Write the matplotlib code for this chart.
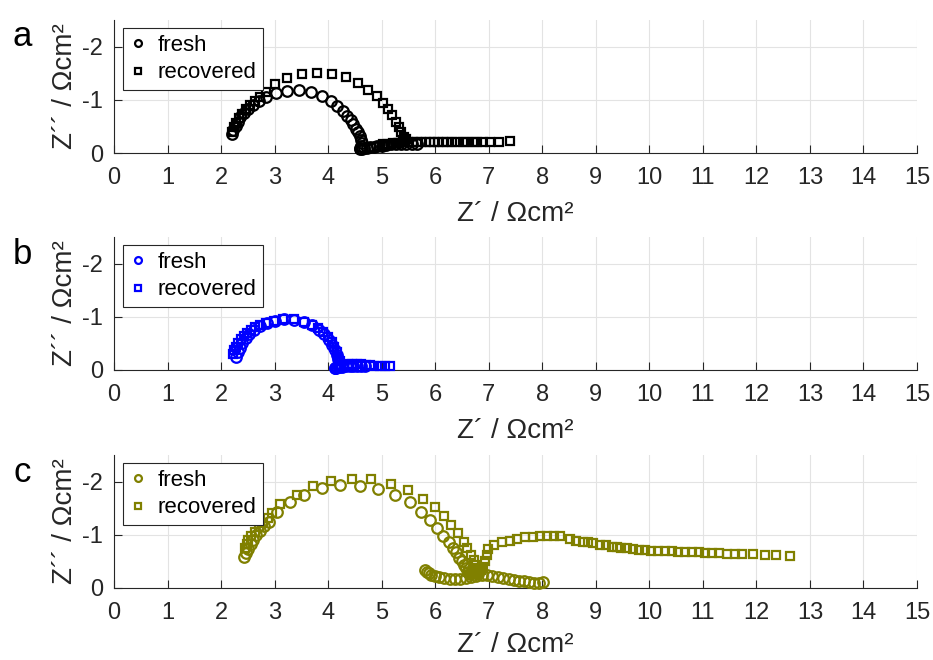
import matplotlib
matplotlib.use("Agg")
import matplotlib.pyplot as plt

plt.rcParams['font.family'] = ['Liberation Sans', 'DejaVu Sans']

# ---------------- data ----------------
panel_labels = ["a", "b", "c"]
series_labels = ["fresh", "recovered"]
colors = ["#000000", "#0000ff", "#808000"]
x_ticks = list(range(0, 16))
y_ticks = [0, -1, -2]
y_tick_labels = ["0", "-1", "-2"]

a_fresh_x = [2.20, 2.23, 2.27, 2.31, 2.36, 2.42, 2.50, 2.59, 2.70, 2.84, 3.03, 3.24, 3.46, 3.68,
             3.88, 4.05, 4.17, 4.27, 4.35, 4.42, 4.47, 4.52, 4.56, 4.60, 4.62, 4.63, 4.62, 4.60,
             4.60, 4.63, 4.67, 4.72, 4.78, 4.85, 4.92, 5.00, 5.08, 5.17, 5.26, 5.36, 5.46, 5.56, 5.66]
a_fresh_y = [-0.35, -0.43, -0.51, -0.59, -0.67, -0.75, -0.83, -0.91, -0.98, -1.05, -1.12, -1.17,
             -1.18, -1.14, -1.07, -0.98, -0.89, -0.79, -0.69, -0.62, -0.54, -0.46, -0.40, -0.32,
             -0.25, -0.18, -0.13, -0.10, -0.08, -0.08, -0.09, -0.10, -0.11, -0.12, -0.13, -0.14,
             -0.15, -0.16, -0.16, -0.17, -0.17, -0.17, -0.16]

a_rec_x = [2.21, 2.24, 2.28, 2.33, 2.39, 2.46, 2.54, 2.63, 2.73, 2.84, 3.01, 3.24, 3.51, 3.79,
           4.07, 4.33, 4.56, 4.75, 4.91, 5.02, 5.11, 5.19, 5.26, 5.32, 5.37, 5.42, 5.45, 5.44,
           5.40, 5.32, 5.22, 5.12, 5.02, 4.95, 5.05, 5.18, 5.30, 5.42, 5.50, 5.58, 5.66, 5.74,
           5.82, 5.90, 5.98, 6.06, 6.14, 6.22, 6.31, 6.41, 6.51, 6.60, 6.70, 6.79, 6.90, 7.02,
           7.20, 7.40]
a_rec_y = [-0.40, -0.48, -0.57, -0.65, -0.73, -0.82, -0.90, -0.98, -1.06, -1.15, -1.29, -1.41,
           -1.48, -1.51, -1.48, -1.42, -1.31, -1.19, -1.07, -0.94, -0.82, -0.71, -0.59, -0.49,
           -0.40, -0.31, -0.26, -0.23, -0.21, -0.19, -0.18, -0.17, -0.16, -0.14, -0.13, -0.15,
           -0.18, -0.20, -0.21, -0.21, -0.21, -0.21, -0.20, -0.20, -0.20, -0.20, -0.20, -0.20,
           -0.20, -0.20, -0.20, -0.20, -0.20, -0.20, -0.20, -0.20, -0.21, -0.23]

b_fresh_x = [2.28, 2.31, 2.35, 2.40, 2.46, 2.53, 2.62, 2.73, 2.86, 3.01, 3.18, 3.36, 3.54, 3.70,
             3.83, 3.93, 4.01, 4.08, 4.13, 4.17, 4.19, 4.20, 4.19, 4.16, 4.13, 4.12, 4.15, 4.20,
             4.26, 4.33, 4.40, 4.47, 4.54, 4.61, 4.68]
b_fresh_y = [-0.24, -0.33, -0.42, -0.51, -0.60, -0.68, -0.76, -0.83, -0.88, -0.92, -0.95, -0.94,
             -0.90, -0.84, -0.76, -0.67, -0.57, -0.47, -0.38, -0.29, -0.21, -0.14, -0.09, -0.06,
             -0.04, -0.03, -0.04, -0.05, -0.06, -0.07, -0.08, -0.08, -0.08, -0.08, -0.08]

b_rec_x = [2.23, 2.25, 2.28, 2.32, 2.37, 2.42, 2.48, 2.55, 2.63, 2.73, 2.84, 2.99, 3.16, 3.36,
           3.54, 3.69, 3.82, 3.91, 3.99, 4.07, 4.11, 4.16, 4.19, 4.22, 4.23, 4.23, 4.22, 4.20,
           4.24, 4.30, 4.37, 4.45, 4.53, 4.61, 4.70, 4.78, 4.86, 4.96, 5.06, 5.16]
b_rec_y = [-0.31, -0.37, -0.44, -0.51, -0.58, -0.64, -0.70, -0.75, -0.80, -0.85, -0.89, -0.93,
           -0.96, -0.95, -0.90, -0.85, -0.79, -0.71, -0.62, -0.52, -0.43, -0.33, -0.24, -0.16,
           -0.10, -0.06, -0.04, -0.03, -0.06, -0.09, -0.11, -0.12, -0.12, -0.11, -0.10, -0.09,
           -0.08, -0.08, -0.075, -0.075]

c_fresh_x = [2.42, 2.46, 2.51, 2.55, 2.60, 2.66, 2.73, 2.81, 2.90, 3.05, 3.29, 3.55, 3.88, 4.23,
             4.60, 4.94, 5.25, 5.52, 5.74, 5.90, 6.04, 6.15, 6.25, 6.33, 6.39, 6.45, 6.50, 6.54,
             6.58, 6.62, 6.65, 6.68, 6.72, 6.76, 6.80,
             5.81, 5.84, 5.88, 5.93, 6.00, 6.08, 6.17, 6.27, 6.37, 6.47, 6.57, 6.67, 6.77, 6.87,
             6.97, 7.07, 7.17, 7.27, 7.37, 7.47, 7.57, 7.66, 7.75, 7.84, 7.93, 8.02]
c_fresh_y = [-0.58, -0.66, -0.73, -0.82, -0.91, -1.00, -1.08, -1.17, -1.25, -1.43, -1.61, -1.75,
             -1.88, -1.94, -1.92, -1.86, -1.75, -1.61, -1.43, -1.28, -1.13, -0.98, -0.86, -0.76,
             -0.67, -0.57, -0.50, -0.43, -0.37, -0.31, -0.26, -0.28, -0.31, -0.30, -0.27,
             -0.34, -0.31, -0.28, -0.25, -0.23, -0.20, -0.18, -0.16, -0.16, -0.17, -0.19, -0.21,
             -0.23, -0.24, -0.24, -0.22, -0.20, -0.18, -0.17, -0.15, -0.14, -0.13, -0.11, -0.10,
             -0.09, -0.11]

c_rec_x = [2.45, 2.48, 2.51, 2.56, 2.63, 2.70, 2.79, 2.87, 2.95, 3.10, 3.41, 3.71, 4.05, 4.44,
           4.81, 5.17, 5.50, 5.77, 6.00, 6.16, 6.29, 6.42, 6.53, 6.60, 6.66, 6.73, 6.77, 6.82,
           6.80, 6.74, 6.68, 6.62, 6.70, 6.78, 6.86,
           6.90, 6.93, 6.96, 6.99, 7.10, 7.24, 7.39, 7.52, 7.68, 7.82, 7.96, 8.09, 8.21, 8.33,
           8.52, 8.63, 8.76, 8.86, 8.95, 9.08, 9.19, 9.30, 9.39, 9.48, 9.59, 9.70, 9.81, 9.92,
           10.04, 10.17, 10.29, 10.42, 10.54, 10.67, 10.79, 10.92, 11.04, 11.17, 11.31, 11.45,
           11.60, 11.74, 11.94, 12.16, 12.37, 12.63]
c_rec_y = [-0.75, -0.83, -0.91, -0.98, -1.06, -1.14, -1.23, -1.32, -1.41, -1.58, -1.75, -1.91,
           -2.01, -2.05, -2.04, -1.96, -1.85, -1.67, -1.52, -1.35, -1.19, -1.03, -0.87, -0.75,
           -0.62, -0.53, -0.43, -0.35, -0.27, -0.26, -0.28, -0.30, -0.33, -0.36, -0.34,
           -0.40, -0.50, -0.62, -0.73, -0.81, -0.86, -0.89, -0.92, -0.96, -0.95, -0.98, -0.98,
           -0.98, -0.97, -0.92, -0.89, -0.87, -0.86, -0.85, -0.81, -0.81, -0.78, -0.77, -0.75,
           -0.75, -0.73, -0.71, -0.71, -0.70, -0.70, -0.69, -0.69, -0.68, -0.68, -0.67, -0.67,
           -0.66, -0.66, -0.65, -0.64, -0.64, -0.63, -0.63, -0.62, -0.62, -0.60]

panels = [
    (a_fresh_x, a_fresh_y, a_rec_x, a_rec_y),
    (b_fresh_x, b_fresh_y, b_rec_x, b_rec_y),
    (c_fresh_x, c_fresh_y, c_rec_x, c_rec_y),
]

# ---------------- figure ----------------
W, H = 933, 660
fig = plt.figure(figsize=(W / 100, H / 100), dpi=100)

ax_left_px, ax_right_px = 114, 917
ax_tops_px = [20, 237, 455]
ax_h_px = 133
letter_y_px = [37, 255, 473]
xlabel_pads = [9, 9, 5.5]

axis_col = "#262626"

for i, (fx, fy, rx, ry) in enumerate(panels):
    top = ax_tops_px[i]
    ax = fig.add_axes([ax_left_px / W, 1 - (top + ax_h_px) / H,
                       (ax_right_px - ax_left_px) / W, ax_h_px / H])
    col = colors[i]
    ax.plot(fx, fy, linestyle="none", marker="o", ms=7.6, mew=1.6, mfc="none",
            mec=col, label=series_labels[0], clip_on=False, zorder=3)
    ax.plot(rx, ry, linestyle="none", marker="s", ms=6.0, mew=1.6, mfc="none",
            mec=col, label=series_labels[1], clip_on=False, zorder=3)

    ax.set_xlim(0, 15)
    ax.set_ylim(0, -2.5)
    ax.set_xticks(x_ticks)
    ax.set_yticks(y_ticks)
    ax.set_yticklabels(y_tick_labels)
    ax.grid(True, color="#e3e3e3", linewidth=0.8)
    ax.set_axisbelow(True)
    for s in ["top", "right"]:
        ax.spines[s].set_visible(False)
    for s in ["left", "bottom"]:
        ax.spines[s].set_color(axis_col)
        ax.spines[s].set_linewidth(0.8)
    ax.tick_params(direction="in", length=5.5, width=0.8, colors=axis_col,
                   labelsize=17, pad=8)
    ax.tick_params(axis="x", pad=10)
    ax.set_xlabel("Z\u00b4 / \u03a9cm\u00b2", fontsize=20, color=axis_col,
                  labelpad=xlabel_pads[i])
    ax.set_ylabel("Z\u00b4\u00b4 / \u03a9cm\u00b2", fontsize=20, color=axis_col, labelpad=3)

    leg = ax.legend(loc="upper left", bbox_to_anchor=(0.011, 0.94), borderaxespad=0,
                    fontsize=16, handlelength=0.8, handletextpad=0.45, borderpad=0.3,
                    labelspacing=0.3, fancybox=False, framealpha=1, markerscale=0.65)
    leg.get_frame().set_edgecolor(axis_col)
    leg.get_frame().set_linewidth(0.8)

    fig.text(22 / W, 1 - letter_y_px[i] / H, panel_labels[i], fontsize=25,
             ha="center", va="center", color="black")

fig.savefig("out.png", dpi=100)
